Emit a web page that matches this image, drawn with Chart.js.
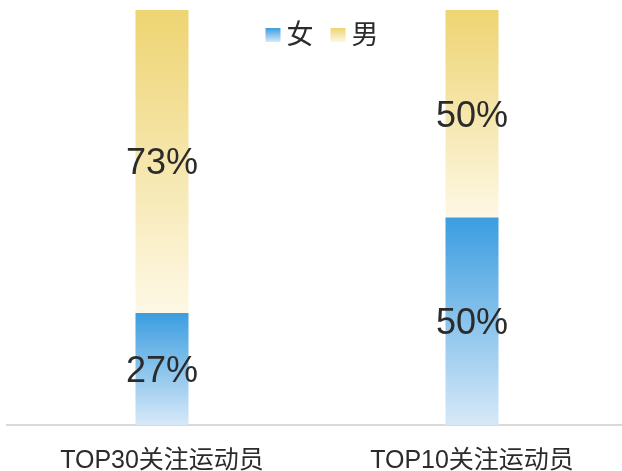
<!DOCTYPE html>
<html>
<head>
<meta charset="utf-8">
<style>
  html, body { margin: 0; padding: 0; background: #ffffff; overflow: hidden; }
  #wrap { width: 622px; height: 471px; position: relative; overflow: hidden; }
</style>
<script src="https://cdn.jsdelivr.net/npm/chart.js@4.4.1/dist/chart.umd.min.js"></script>
</head>
<body>
<div id="wrap"><canvas id="c" width="627" height="471"></canvas></div>
<script>
const categories = ['TOP30关注运动员', 'TOP10关注运动员'];
const seriesNames = ['女', '男'];
const femaleValues = [27, 50];
const maleValues = [73, 50];

const FONT = '"Liberation Sans", Arial, "Noto Sans CJK SC", sans-serif';
const TEXT = '#2b2b2b';
const gradStops = [
  ['#3b9de0', '#d7e9f8'],
  ['#eed472', '#fdf8e5']
];
const allSeries = [femaleValues, maleValues];

function segGradient(ctx, dsIndex) {
  const chart = ctx.chart;
  const area = chart.chartArea;
  if (!area || ctx.type !== 'data') return gradStops[dsIndex][0];
  const i = ctx.dataIndex;
  let start = 0;
  for (let d = 0; d < dsIndex; d++) start += allSeries[d][i];
  const end = start + allSeries[dsIndex][i];
  const y = chart.scales.y;
  const top = y.getPixelForValue(end);
  const bot = y.getPixelForValue(start);
  const g = chart.ctx.createLinearGradient(0, top, 0, bot);
  g.addColorStop(0, gradStops[dsIndex][0]);
  g.addColorStop(1, gradStops[dsIndex][1]);
  return g;
}

const valueLabels = {
  id: 'valueLabels',
  afterDatasetsDraw(chart) {
    const c = chart.ctx;
    c.save();
    c.font = '36px ' + FONT;
    c.fillStyle = TEXT;
    c.textAlign = 'center';
    c.textBaseline = 'middle';
    chart.data.datasets.forEach((ds, di) => {
      const meta = chart.getDatasetMeta(di);
      meta.data.forEach((el, i) => {
        const p = el.getProps(['x', 'y', 'base'], true);
        c.fillText(ds.data[i] + '%', p.x, (p.y + p.base) / 2 + 3);
      });
    });
    c.restore();
  }
};

const topLegend = {
  id: 'topLegend',
  afterDraw(chart) {
    const c = chart.ctx;
    c.save();
    c.font = '27px ' + FONT;
    const box = 15, boxH = 14, gap = 6, itemGap = 17;
    const widths = seriesNames.map(n => c.measureText(n).width);
    let total = 0;
    widths.forEach((w, i) => { total += box + gap + w + (i < widths.length - 1 ? itemGap : 0); });
    let x = 322 - total / 2;
    const cy = 35;
    seriesNames.forEach((n, i) => {
      const g = c.createLinearGradient(0, cy - boxH / 2, 0, cy + boxH / 2);
      g.addColorStop(0, gradStops[i][0]);
      g.addColorStop(1, gradStops[i][1]);
      c.fillStyle = g;
      c.fillRect(x, cy - boxH / 2, box, boxH);
      x += box + gap;
      c.fillStyle = TEXT;
      c.textAlign = 'left';
      c.textBaseline = 'middle';
      c.fillText(n, x, cy + 2);
      x += widths[i] + itemGap;
    });
    c.restore();
  }
};

new Chart(document.getElementById('c'), {
  type: 'bar',
  data: {
    labels: categories,
    datasets: [
      { label: seriesNames[0], data: femaleValues, backgroundColor: ctx => segGradient(ctx, 0) },
      { label: seriesNames[1], data: maleValues, backgroundColor: ctx => segGradient(ctx, 1) }
    ]
  },
  options: {
    responsive: false,
    animation: false,
    devicePixelRatio: 1,
    layout: { padding: { left: 7, right: 0, top: 10, bottom: 0 } },
    datasets: { bar: { barPercentage: 0.171, categoryPercentage: 1, borderWidth: 0 } },
    plugins: { legend: { display: false }, tooltip: { enabled: false } },
    scales: {
      x: {
        stacked: true,
        grid: { display: false, drawTicks: false },
        border: { display: true, color: '#d9d9d9', width: 2 },
        ticks: { color: TEXT, font: { size: 25, family: FONT, lineHeight: 1 }, padding: 24, maxRotation: 0, minRotation: 0, autoSkip: false },
        afterFit(scale) { scale.height = 46; }
      },
      y: {
        stacked: true,
        display: false,
        min: 0,
        max: 100
      }
    }
  },
  plugins: [valueLabels, topLegend]
});
</script>
</body>
</html>
